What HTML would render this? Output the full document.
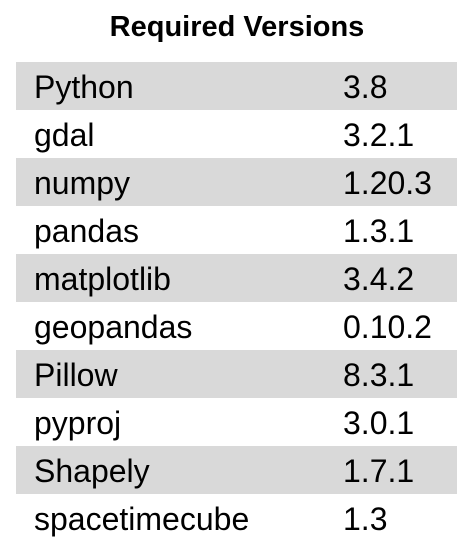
<!DOCTYPE html>
<html><head><style>
body{margin:0;background:#fff;width:464px;height:548px;overflow:hidden;font-family:"Liberation Sans",sans-serif;color:#000;position:relative}
.t{position:absolute;top:8px;left:0;width:474px;text-align:center;font-weight:bold;font-size:29px;line-height:38px}
.r{position:absolute;left:16px;width:441px;height:48px}
.g{background:#d9d9d9}
.n,.v{position:absolute;top:0;line-height:48px;font-size:32px;padding-top:1px;white-space:nowrap}
.n{left:18px}.v{left:327px}
</style></head><body>
<div class="t">Required Versions</div>
<div class="r g" style="top:62px"><span class="n">Python</span><span class="v">3.8</span></div>
<div class="r" style="top:110px"><span class="n">gdal</span><span class="v">3.2.1</span></div>
<div class="r g" style="top:158px"><span class="n">numpy</span><span class="v">1.20.3</span></div>
<div class="r" style="top:206px"><span class="n">pandas</span><span class="v">1.3.1</span></div>
<div class="r g" style="top:254px"><span class="n">matplotlib</span><span class="v">3.4.2</span></div>
<div class="r" style="top:302px"><span class="n">geopandas</span><span class="v">0.10.2</span></div>
<div class="r g" style="top:350px"><span class="n">Pillow</span><span class="v">8.3.1</span></div>
<div class="r" style="top:398px"><span class="n">pyproj</span><span class="v">3.0.1</span></div>
<div class="r g" style="top:446px"><span class="n">Shapely</span><span class="v">1.7.1</span></div>
<div class="r" style="top:494px"><span class="n">spacetimecube</span><span class="v">1.3</span></div>
</body></html>
